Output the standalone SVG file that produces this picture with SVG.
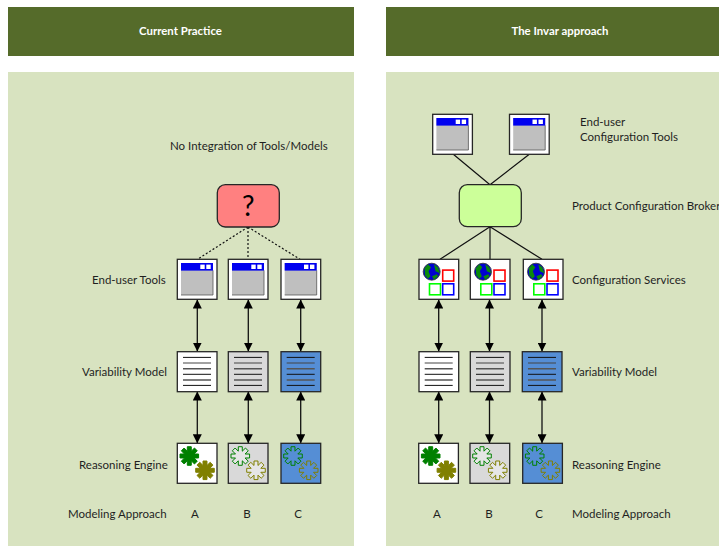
<svg xmlns="http://www.w3.org/2000/svg" width="719" height="546" viewBox="0 0 719 546">
<style>
text{font-family:"Lato","Liberation Sans",sans-serif;font-size:11.5px;fill:#1f1f1f}
.hd{font-weight:bold;fill:#fff;font-size:11.4px;text-anchor:middle}
.m{text-anchor:middle}
.hb{fill:#556b2a}
.pn{fill:#d8e3c0}
.box{stroke:#262626;stroke-width:1.3}
.c{fill:none;stroke:#111;stroke-width:1.2}
.d{fill:none;stroke:#111;stroke-width:1.2;stroke-dasharray:2 2}
.a{fill:none;stroke:#111;stroke-width:1.3;marker-start:url(#ah);marker-end:url(#ah)}
</style>
<defs>
<marker id="ah" viewBox="0 0 8 8" refX="8" refY="4" markerWidth="9" markerHeight="9" markerUnits="userSpaceOnUse" orient="auto-start-reverse"><path d="M0 0L8 4L0 8Z" fill="#000"/></marker>
<polygon id="gear" points="9.29,-1.98 9.29,1.98 4.8,1.99 7.97,5.17 5.17,7.97 1.99,4.8 1.98,9.29 -1.98,9.29 -1.99,4.8 -5.17,7.97 -7.97,5.17 -4.8,1.99 -9.29,1.98 -9.29,-1.98 -4.8,-1.99 -7.97,-5.17 -5.17,-7.97 -1.99,-4.8 -1.98,-9.29 1.98,-9.29 1.99,-4.8 5.17,-7.97 7.97,-5.17 4.8,-1.99"/>
<g id="win">
<rect width="39.7" height="40" fill="#fff" class="box"/>
<rect x="3.7" y="3.7" width="32" height="32" fill="#bfbfbf"/>
<path d="M35.7 11V35.7H3.7" fill="none" stroke="#555" stroke-width=".8"/>
<rect x="3.7" y="3.7" width="32" height="7.6" fill="#0000f0"/>
<rect x="23" y="5.3" width="4.4" height="4.4" fill="#fff"/>
<rect x="29" y="5.3" width="4.4" height="4.4" fill="#fff"/>
</g>
<g id="lines" fill="none">
<path d="M5.7 5.700H33.700M5.700 22.600H33.700M5.700 33.700H33.700" stroke="#111" stroke-width="1"/>
<path d="M5.700 11.300H33.700" stroke="#444" stroke-width="1"/>
<path d="M5.700 17H33.700M5.700 28.300H33.700" stroke="#555" stroke-width="1.400"/>
</g>
<g id="svc">
<rect width="39.7" height="40" fill="#fff" class="box"/>
<circle cx="12.7" cy="12.400" r="8.500" fill="#0000d0" stroke="#333" stroke-width=".8"/>
<path d="M5.500 9L9 5L12 8L9.500 12L11.500 17L9 19.500L6 16ZM15 5L19 8L21 14L16.500 12ZM13 17L18 15L19 17L15 20.500Z" fill="#0a8a0a"/>
<rect x="23.700" y="10.800" width="11" height="11" fill="none" stroke="#f00" stroke-width="1.600"/>
<rect x="10.500" y="24.500" width="11" height="11" fill="none" stroke="#0f0" stroke-width="1.600"/>
<rect x="23.700" y="24.500" width="11" height="11" fill="none" stroke="#00f" stroke-width="1.600"/>
</g>
<g id="e1"><rect width="39.7" height="40" fill="#fff" class="box"/><use href="#gear" x="12" y="12.700" fill="#008000" stroke="#008000" stroke-width="1"/><use href="#gear" x="27.700" y="27" fill="#808000" stroke="#808000" stroke-width="1"/></g>
<g id="e2"><rect width="39.7" height="40" fill="#d9d9d9" class="box"/><use href="#gear" x="12" y="12.700" fill="#e6e6e6" stroke="#008000" stroke-width="1"/><use href="#gear" x="27.700" y="27" fill="#e6e6e6" stroke="#808000" stroke-width="1"/></g>
<g id="e3"><rect width="39.7" height="40" fill="#558ed5" class="box"/><use href="#gear" x="12" y="12.700" fill="#558ed5" stroke="#008000" stroke-width="1"/><use href="#gear" x="27.700" y="27" fill="#558ed5" stroke="#808000" stroke-width="1"/></g>
</defs>
<rect width="719" height="546" fill="#fff"/>
<g id="panel-left"><rect class="hb" x="8" y="7" width="346" height="49"/><rect class="pn" x="8" y="72" width="346" height="474"/><text class="hd" x="180.500" y="35">Current Practice</text></g>
<g id="panel-right"><rect class="hb" x="386" y="7" width="333" height="49"/><rect class="pn" x="386" y="72" width="333" height="474"/><text class="hd" x="560" y="35">The Invar approach</text></g>
<g id="connectors">
<path class="d" d="M248 227L197.500 259.300M248 227V259.300M248 227L300 259.300"/>
<path class="a" d="M197.300 299.500V351.500"/><path class="a" d="M248.300 299.500V351.500"/><path class="a" d="M300.700 299.500V351.500"/>
<path class="a" d="M197.300 391.500V443.300"/><path class="a" d="M248.300 391.500V443.300"/><path class="a" d="M300.700 391.500V443.300"/>
<path class="c" d="M490 184.700L453.300 154.300M490 184.700L529.300 154.300M490 226.700L440 259.300M490 226.700V259.300M490 226.700L542 259.300"/>
<path class="a" d="M438.700 299.500V351.500"/><path class="a" d="M489.500 299.500V351.500"/><path class="a" d="M542 299.500V351.500"/>
<path class="a" d="M438.700 391.500V443.300"/><path class="a" d="M489.500 391.500V443.300"/><path class="a" d="M542 391.500V443.300"/>
</g>
<g id="node-question"><rect x="217.300" y="184.700" width="62" height="42.300" rx="8" fill="#ff8080" class="box"/><text class="m" x="248.300" y="215.700" style="font-size:28px;fill:#000">?</text></g>
<g id="tools-left"><use href="#win" x="177.300" y="259.300"/><use href="#win" x="228.300" y="259.300"/><use href="#win" x="281" y="259.300"/></g>
<g id="models-left">
<g transform="translate(177.300 351.700)"><rect width="39.700" height="40" fill="#fff" class="box"/><use href="#lines"/></g>
<g transform="translate(228.300 351.700)"><rect width="39.700" height="40" fill="#d9d9d9" class="box"/><use href="#lines"/></g>
<g transform="translate(281 351.700)"><rect width="39.700" height="40" fill="#558ed5" class="box"/><use href="#lines"/></g>
</g>
<g id="engines-left"><use href="#e1" x="177.300" y="443.300"/><use href="#e2" x="228.300" y="443.300"/><use href="#e3" x="281" y="443.300"/></g>
<g id="tools-right"><use href="#win" x="432.700" y="114.300"/><use href="#win" x="509.500" y="114.300"/></g>
<g id="node-broker"><rect x="459.300" y="184.700" width="62" height="42" rx="8" fill="#ccff99" class="box"/></g>
<g id="services"><use href="#svc" x="419" y="259.300"/><use href="#svc" x="470.300" y="259.300"/><use href="#svc" x="523.300" y="259.300"/></g>
<g id="models-right">
<g transform="translate(419 351.700)"><rect width="39.700" height="40" fill="#fff" class="box"/><use href="#lines"/></g>
<g transform="translate(470.300 351.700)"><rect width="39.700" height="40" fill="#d9d9d9" class="box"/><use href="#lines"/></g>
<g transform="translate(522.300 351.700)"><rect width="39.700" height="40" fill="#558ed5" class="box"/><use href="#lines"/></g>
</g>
<g id="engines-right"><use href="#e1" x="418.700" y="443.300"/><use href="#e2" x="470" y="443.300"/><use href="#e3" x="522.700" y="443.300"/></g>
<g id="labels">
<text x="170" y="150">No Integration of Tools/Models</text>
<text x="92" y="284">End-user Tools</text>
<text x="82" y="376">Variability Model</text>
<text x="79" y="469">Reasoning Engine</text>
<text x="68" y="518">Modeling Approach</text>
<text class="m" x="195" y="518">A</text><text class="m" x="247" y="518">B</text><text class="m" x="298" y="518">C</text>
<text x="580" y="126">End-user</text><text x="580" y="141">Configuration Tools</text>
<text x="572" y="210">Product Configuration Broker</text>
<text x="572" y="284">Configuration Services</text>
<text x="572" y="376">Variability Model</text>
<text x="572" y="469">Reasoning Engine</text>
<text x="572" y="518">Modeling Approach</text>
<text class="m" x="437" y="518">A</text><text class="m" x="489" y="518">B</text><text class="m" x="539" y="518">C</text>
</g>
</svg>
